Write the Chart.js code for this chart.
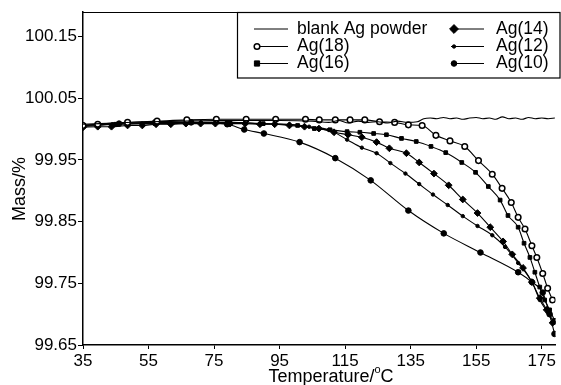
<!DOCTYPE html>
<html>
<head>
<meta charset="utf-8">
<script src="https://cdn.jsdelivr.net/npm/chart.js@4.4.0/dist/chart.umd.min.js"></script>
<style>body{margin:0;background:#fff}</style>
</head>
<body>
<canvas id="tgaChart" width="561" height="385"></canvas>
<script>
var xTicks = [35, 55, 75, 95, 115, 135, 155, 175]
var yTicks = [99.65, 99.75, 99.85, 99.95, 100.05, 100.15]

// blank Ag powder (no markers)
var tBlank = [35, 45, 55, 65, 75, 85, 95, 105, 110, 113, 116, 119, 122, 125, 128, 131, 134, 137, 139, 141, 143, 145, 147, 149, 151, 153, 155, 157, 159, 161, 163, 165, 167, 169, 171, 173, 175, 177, 179]
var mBlank = [100.008, 100.010, 100.012, 100.013, 100.014, 100.014, 100.014, 100.013, 100.011, 100.014, 100.010, 100.013, 100.011, 100.012, 100.010, 100.013, 100.011, 100.012, 100.017, 100.018, 100.017, 100.019, 100.017, 100.018, 100.016, 100.018, 100.019, 100.017, 100.018, 100.016, 100.020, 100.017, 100.018, 100.016, 100.019, 100.017, 100.018, 100.017, 100.018]

var t18 = [35, 39.5, 48.6, 57.6, 66.7, 75.7, 84.8, 93.8, 102.9, 107.1, 112, 116.5, 121, 125.5, 130.1, 134.3, 138.5, 142.7, 147, 151.5, 155.7, 159.9, 162.9, 165.7, 167.8, 169.9, 172, 173.5, 175.3, 176.8, 178.3]
var m18 = [100.006, 100.008, 100.011, 100.013, 100.015, 100.016, 100.016, 100.016, 100.016, 100.015, 100.015, 100.015, 100.015, 100.012, 100.011, 100.007, 100.006, 99.990, 99.981, 99.972, 99.949, 99.927, 99.904, 99.881, 99.857, 99.838, 99.811, 99.792, 99.766, 99.742, 99.723]

var t16 = [35, 45, 57, 68, 79, 90, 100.5, 105.6, 110.4, 115.6, 119.5, 123.7, 127.6, 132.2, 136.7, 141.2, 145.7, 150.6, 154.8, 158.7, 162.3, 164.7, 167.8, 169.6, 171.4, 172.9, 174.4, 175.9, 177.4, 178.9]
var m16 = [100.004, 100.008, 100.009, 100.011, 100.011, 100.009, 100.006, 100.001, 99.999, 99.996, 99.995, 99.993, 99.991, 99.985, 99.980, 99.972, 99.962, 99.946, 99.930, 99.907, 99.885, 99.860, 99.841, 99.815, 99.792, 99.768, 99.744, 99.723, 99.707, 99.690]

var t14 = [35, 39.5, 43.7, 48.6, 53.1, 57.3, 61.8, 66.4, 70.9, 75.4, 79.9, 84.5, 89, 93.5, 98, 102.6, 107, 111.6, 115.9, 120.1, 124.6, 128.5, 133.7, 137.6, 142.1, 146.6, 150.9, 155.4, 159.3, 163.2, 166, 169.3, 172, 174.4, 176.5, 178.3]
var m14 = [100.003, 100.004, 100.004, 100.006, 100.006, 100.008, 100.008, 100.009, 100.009, 100.009, 100.009, 100.009, 100.008, 100.008, 100.006, 100.004, 100.001, 99.995, 99.991, 99.987, 99.979, 99.969, 99.961, 99.946, 99.928, 99.909, 99.886, 99.864, 99.841, 99.818, 99.797, 99.775, 99.752, 99.726, 99.707, 99.686]

var t12 = [35, 44, 53, 62, 71, 80, 89, 98, 104, 110, 115.6, 120.1, 124.6, 128.8, 133.4, 137.6, 141.8, 146.3, 150.9, 155.4, 159.9, 163.8, 167.8, 172, 174.4, 176.8, 178.9]
var m12 = [100.006, 100.008, 100.009, 100.009, 100.011, 100.011, 100.009, 100.008, 100.004, 99.999, 99.983, 99.970, 99.961, 99.945, 99.928, 99.911, 99.894, 99.877, 99.859, 99.843, 99.828, 99.809, 99.783, 99.752, 99.723, 99.703, 99.686]

var t10 = [35, 46, 57, 68, 79, 84.2, 90.2, 101.1, 112, 122.8, 134.3, 145.1, 156.3, 167.8, 172, 175.3, 177.4, 178.9]
var m10 = [100.006, 100.009, 100.011, 100.011, 100.008, 99.9995, 99.993, 99.979, 99.953, 99.917, 99.868, 99.831, 99.800, 99.768, 99.752, 99.735, 99.700, 99.668]

function pts(t, m) {
    return t.map(function (v, i) { return {x: v, y: m[i]} })
}

function series(label, t, m, style, r, fill) {
    return {
        label: label,
        data: pts(t, m),
        borderColor: '#000',
        borderWidth: 1.1,
        backgroundColor: fill,
        pointStyle: style,
        pointRadius: r,
        pointBorderWidth: style === 'circle' && fill === '#fff' ? 1.5 : 1,
        pointBorderColor: '#000',
        pointBackgroundColor: fill,
        cubicInterpolationMode: 'monotone',
        fill: false
    }
}

var datasets = [
    series('blank Ag powder', tBlank, mBlank, 'circle', 0, '#000'),
    series('Ag(18)', t18, m18, 'circle', 2.8, '#fff'),
    series('Ag(16)', t16, m16, 'rect', 2.6, '#000'),
    series('Ag(14)', t14, m14, 'rectRot', 3.4, '#000'),
    series('Ag(12)', t12, m12, 'circle', 1.7, '#000'),
    series('Ag(10)', t10, m10, 'circle', 2.8, '#000')
]

var FONT = '"Liberation Sans", Arial, sans-serif'

function drawMarker(ctx, ds, x, y) {
    var r = ds.pointRadius
    if (!r) return
    ctx.save()
    ctx.fillStyle = ds.pointBackgroundColor
    ctx.strokeStyle = '#000'
    ctx.lineWidth = ds.pointBorderWidth
    ctx.beginPath()
    if (ds.pointStyle === 'rect') {
        ctx.rect(x - r, y - r, 2 * r, 2 * r)
    } else if (ds.pointStyle === 'rectRot') {
        ctx.moveTo(x, y - r * 1.3); ctx.lineTo(x + r * 1.3, y)
        ctx.lineTo(x, y + r * 1.3); ctx.lineTo(x - r * 1.3, y); ctx.closePath()
    } else {
        ctx.arc(x, y, r, 0, Math.PI * 2)
    }
    ctx.fill()
    ctx.stroke()
    ctx.restore()
}

var decor = {
    id: 'decor',
    afterDraw: function (chart) {
        var ctx = chart.ctx
        var a = chart.chartArea
        ctx.save()
        // top frame line
        ctx.strokeStyle = '#000'
        ctx.lineWidth = 1.2
        ctx.beginPath()
        ctx.moveTo(a.left, a.top + 0.5)
        ctx.lineTo(a.right, a.top + 0.5)
        ctx.stroke()

        // legend box
        ctx.fillStyle = '#fff'
        ctx.fillRect(237, 12, 324, 66)
        ctx.lineWidth = 1.2
        ctx.strokeRect(237.5, 12.5, 322.5, 65.5)

        ctx.font = '17.5px ' + FONT
        ctx.fillStyle = '#000'
        ctx.textBaseline = 'middle'
        var rows = [29, 46.5, 63.5]
        chart.data.datasets.forEach(function (ds, i) {
            var col = i < 3 ? 0 : 1
            var y = rows[i % 3]
            var x0 = col === 0 ? 254 : 451
            var x1 = col === 0 ? 288 : 484
            var tx = col === 0 ? 297 : 496
            ctx.strokeStyle = '#000'
            ctx.lineWidth = 1
            ctx.beginPath()
            ctx.moveTo(x0, y)
            ctx.lineTo(x1, y)
            ctx.stroke()
            drawMarker(ctx, ds, x0 + 3, y)
            ctx.fillStyle = '#000'
            ctx.textAlign = 'left'
            ctx.fillText(ds.label, tx, y)
        })

        // axis titles
        ctx.font = '18px ' + FONT
        var s1 = 'Temperature/'
        var w1 = ctx.measureText(s1).width
        ctx.font = '11px ' + FONT
        var w2 = ctx.measureText('o').width
        ctx.font = '18px ' + FONT
        var w3 = ctx.measureText('C').width
        var sx = 331 - (w1 + w2 + w3) / 2
        var sy = 377
        ctx.textAlign = 'left'
        ctx.fillText(s1, sx, sy)
        ctx.font = '11px ' + FONT
        ctx.fillText('o', sx + w1, sy - 7)
        ctx.font = '18px ' + FONT
        ctx.fillText('C', sx + w1 + w2, sy)

        ctx.translate(20, 189)
        ctx.rotate(-Math.PI / 2)
        ctx.textAlign = 'center'
        ctx.fillText('Mass/%', 0, 0)
        ctx.restore()
    }
}

new Chart(document.getElementById('tgaChart').getContext('2d'), {
    type: 'line',
    data: {datasets: datasets},
    options: {
        responsive: false,
        animation: false,
        layout: {padding: {top: 12, right: 0, left: 0, bottom: 0}},
        plugins: {legend: {display: false}, tooltip: {enabled: false}},
        scales: {
            x: {
                type: 'linear',
                min: 35,
                max: 179.2,
                afterBuildTicks: function (s) { s.ticks = xTicks.map(function (v) { return {value: v} }) },
                afterFit: function (s) { s.height = 40 },
                grid: {drawOnChartArea: false, tickLength: 4, color: '#000', lineWidth: 1},
                border: {color: '#000', width: 1.5},
                ticks: {color: '#000', font: {family: FONT, size: 17}, padding: 2, maxRotation: 0, autoSkip: false}
            },
            y: {
                type: 'linear',
                min: 99.65,
                max: 100.19,
                afterBuildTicks: function (s) { s.ticks = yTicks.map(function (v) { return {value: v} }) },
                afterFit: function (s) { s.width = 83 },
                grid: {drawOnChartArea: false, tickLength: 5, color: '#000', lineWidth: 1},
                border: {color: '#000', width: 1.5},
                ticks: {
                    color: '#000', font: {family: FONT, size: 17}, padding: 1,
                    callback: function (v) { return v.toFixed(2) }
                }
            }
        }
    },
    plugins: [decor]
})
</script>
</body>
</html>
